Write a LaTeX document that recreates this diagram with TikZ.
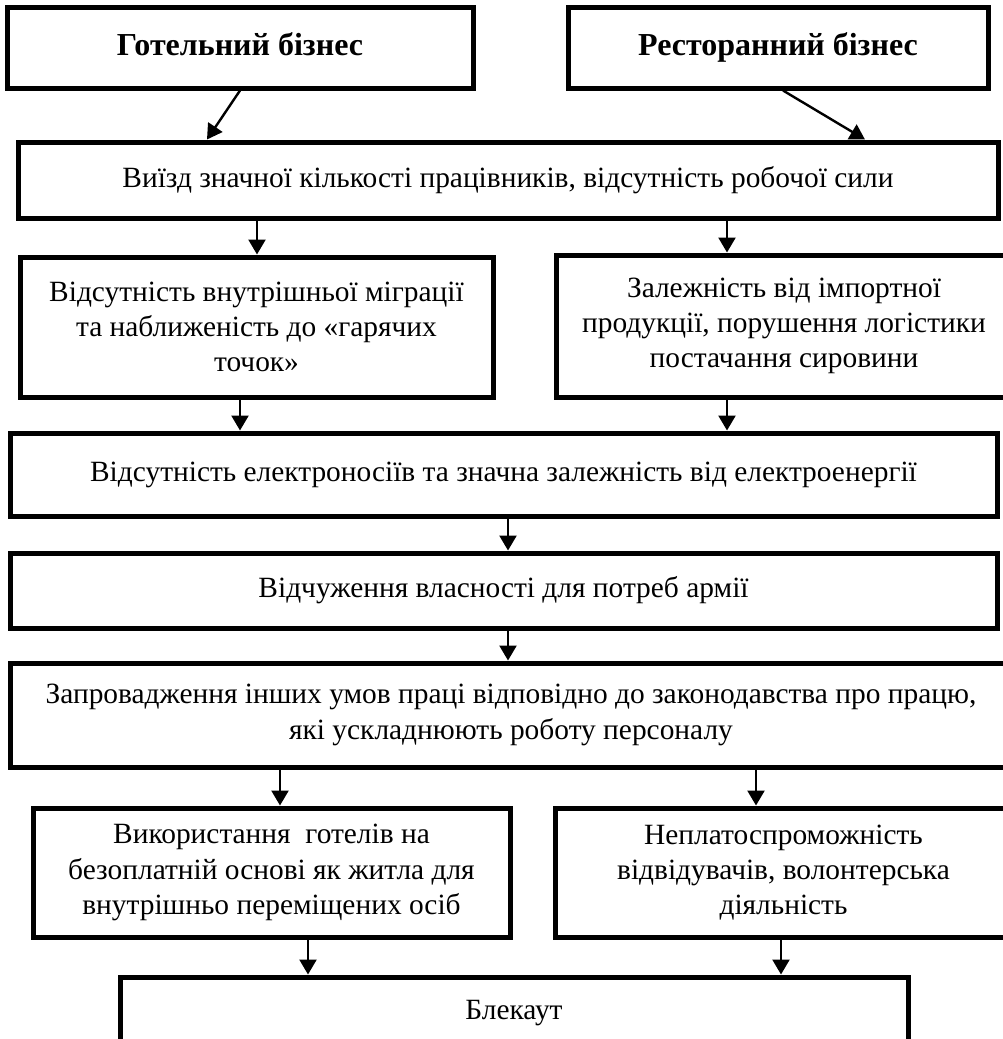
\documentclass[tikz,border=0pt]{standalone}
\usepackage{fontspec}
\setmainfont{Liberation Serif}
\usepackage{tikz}
\usetikzlibrary{arrows.meta}

\tikzset{
  box/.style={draw, line width=2.5pt, inner sep=0pt, align=center,
              font=\fontsize{14.7}{17.6}\selectfont},
  headbox/.style={box, font=\fontsize{16}{19}\selectfont\bfseries,
                  execute at begin node=\strut},
  arr/.style={line width=1.2pt, -{Triangle[width=8.5pt,length=7.5pt]}}
}

\begin{document}
\begin{tikzpicture}[x=0.5pt,y=-0.5pt]
  \useasboundingbox (0,0) rectangle (1002,1039);

  % top row
  \node [headbox, minimum width=233pt, minimum height=40.5pt] (gotel) at (240,47.5) {Готельний бізнес};
  \node [headbox, minimum width=210pt, minimum height=40.5pt] (restor) at (778,47.5) {Ресторанний бізнес};

  \node [box, minimum width=490pt, minimum height=38pt] (vyizd) at (508,180)
        {Виїзд значної кількості працівників, відсутність робочої сили};

  \node [box, minimum width=236.5pt, minimum height=70pt] (migr) at (256.5,327)
        {Відсутність внутрішньої міграції\\та наближеність до «гарячих\\точок»};
  \node [box, minimum width=228pt, minimum height=71pt] (import) at (784,326)
        {Залежність від імпортної\\продукції, порушення логістики\\постачання сировини};

  \node [box, minimum width=493.5pt, minimum height=41.5pt] (elektro) at (503.5,474.5)
        {Відсутність електроносіїв та значна залежність від електроенергії};
  \node [box, minimum width=493.5pt, minimum height=37.5pt] (vidch) at (503.5,590.5)
        {Відчуження власності для потреб армії};
  \node [box, minimum width=501pt, minimum height=52pt] (umovy) at (511,715)
        {Запровадження інших умов праці відповідно до законодавства про працю,\\які ускладнюють роботу персоналу};

  \node [box, minimum width=238.5pt, minimum height=64.5pt] (zhytlo) at (271.5,872.5)
        {Використання\ \ готелів на\\безоплатній основі як житла для\\внутрішньо переміщених осіб};
  \node [box, minimum width=228.5pt, minimum height=64.5pt] (nepl) at (783.5,872.5)
        {Неплатоспроможність\\відвідувачів, волонтерська\\діяльність};

  \node [box, minimum width=394pt, minimum height=36.5pt] (blek) at (514,1013.5) {Блекаут};

  % connectors
  \draw [arr] (gotel.south) -- (vyizd.north -| 207,0);
  \draw [arr] (restor.south -| 783,0) -- (vyizd.north -| 865,0);
  \foreach \a/\b/\x in {vyizd/migr/257, vyizd/import/727, migr/elektro/240,
                        import/elektro/727, elektro/vidch/508, vidch/umovy/508,
                        umovy/zhytlo/280, umovy/nepl/756, zhytlo/blek/308, nepl/blek/781}
    \draw [arr] (\a.south -| \x,0) -- (\b.north -| \x,0);
\end{tikzpicture}
\end{document}
